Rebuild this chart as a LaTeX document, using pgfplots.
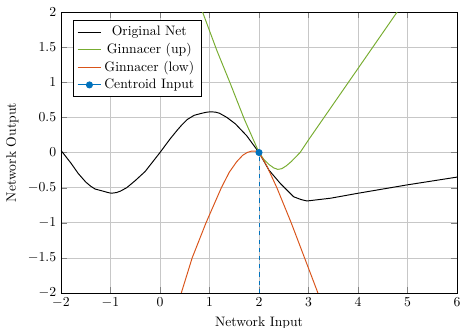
\documentclass[border=0pt]{standalone}
\usepackage{pgfplots}
\pgfplotsset{compat=1.18}
\definecolor{mgreen}{RGB}{119,172,48}
\definecolor{morange}{RGB}{217,83,25}
\definecolor{mblue}{RGB}{0,114,189}
\begin{document}
\begin{tikzpicture}
\begin{axis}[
  scale only axis,
  width=289pt, height=205pt,
  xmin=-2, xmax=6, ymin=-2, ymax=2,
  xtick={-2,-1,0,1,2,3,4,5,6},
  ytick={-2,-1.5,-1,-0.5,0,0.5,1,1.5,2},
  grid=major,
  major grid style={black!22, line width=0.5pt},
  xlabel={Network Input},
  ylabel={Network Output},
  legend pos=north west,
  legend cell align=center,
  legend style={font=\normalsize},
]
\addplot[black, line width=0.7pt] coordinates {
(-2,0.03)(-1.9,-0.06)(-1.8,-0.15)(-1.65,-0.3)(-1.5,-0.42)(-1.4,-0.48)(-1.31,-0.52)(-1.15,-0.55)(-1.05,-0.57)(-0.98,-0.58)(-0.88,-0.57)(-0.8,-0.55)(-0.67,-0.5)(-0.5,-0.4)(-0.3,-0.27)(0,0)(0.2,0.19)(0.35,0.32)(0.45,0.4)(0.55,0.47)(0.69,0.53)(0.85,0.56)(0.95,0.575)(1.03,0.58)(1.12,0.575)(1.2,0.56)(1.35,0.5)(1.52,0.41)(1.75,0.24)(2,0)(2.2,-0.25)(2.43,-0.44)(2.7,-0.63)(2.85,-0.67)(2.97,-0.69)(3.45,-0.65)(4,-0.58)(5,-0.46)(6,-0.35)
};
\addlegendentry{Original Net}
\addplot[mgreen, line width=0.7pt] coordinates {
(0.86,2)(1.15,1.45)(1.41,1.0)(1.7,0.48)(2,0)(2.1,-0.1)(2.2,-0.17)(2.3,-0.22)(2.38,-0.24)(2.46,-0.23)(2.55,-0.19)(2.65,-0.13)(2.83,0)(3,0.18)(4.79,2)
};
\addlegendentry{Ginnacer (up)}
\addplot[morange, line width=0.7pt] coordinates {
(0.43,-2)(0.65,-1.5)(0.93,-1)(1.24,-0.5)(1.4,-0.28)(1.55,-0.13)(1.67,-0.04)(1.76,0.0)(1.85,0.02)(1.93,0.02)(2,0)(2.15,-0.18)(2.36,-0.5)(2.65,-1)(2.92,-1.5)(3.19,-2)
};
\addlegendentry{Ginnacer (low)}
\addplot[mblue, line width=0.7pt, mark=*, mark size=2.2pt] coordinates {(2,0)};
\addlegendentry{Centroid Input}
\addplot[mblue, line width=0.7pt, dashed, forget plot] coordinates {(2,-2)(2,0)};
\end{axis}
\pgfresetboundingbox
\path[use as bounding box] ([shift={(-44.5pt,-25.5pt)}]current axis.south west) rectangle ([shift={(2.9pt,8.8pt)}]current axis.north east);
\end{tikzpicture}
\end{document}
